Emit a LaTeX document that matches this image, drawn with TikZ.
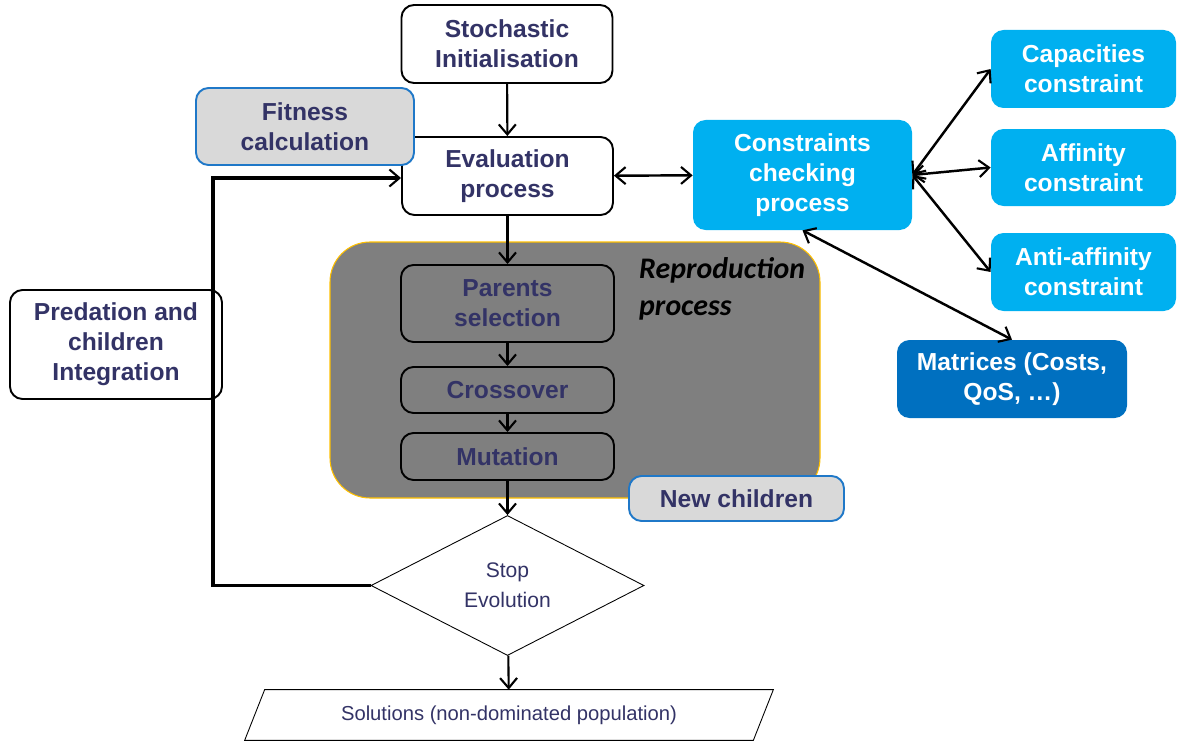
\documentclass[tikz,border=0pt]{standalone}
\usepackage{xcolor}
\usepackage{fontspec}
\setmainfont{Liberation Sans}
\newfontfamily\calib{Carlito}
\usetikzlibrary{shapes,arrows,positioning,calc,shapes.geometric,arrows.meta}

\definecolor{navytext}{HTML}{333366}
\definecolor{cyanbox}{HTML}{00B0F0}
\definecolor{bluebox}{HTML}{0070C0}
\definecolor{reprogray}{HTML}{7F7F7F}
\definecolor{reproedge}{HTML}{FFC000}
\definecolor{notegray}{HTML}{D9D9D9}
\definecolor{noteedge}{HTML}{1F78C8}

\begin{document}
\begin{tikzpicture}[
    >={Straight Barb[length=2mm, width=3.4mm, line width=1.2pt]},
    stepbox/.style={draw, line width=1.1pt, rounded corners=0.25cm, align=center, inner sep=0pt,
        text=navytext, font=\fontsize{14}{17}\selectfont\bfseries},
    notebox/.style={stepbox, fill=notegray, draw=noteedge},
    cbox/.style={rounded corners=0.25cm, align=center, inner sep=0pt, fill=cyanbox,
        text=white, font=\fontsize{14}{17}\selectfont\bfseries, minimum width=3.7cm},
    flow/.style={->, line width=1.2pt},
    both/.style={<->, line width=1.4pt}
]
    \useasboundingbox (0,0) rectangle (24.04,-14.84);

    % Reproduction background
    \draw[fill=reprogray, draw=reproedge, line width=0.6pt, rounded corners=0.8cm]
        (6.6,-4.84) rectangle (16.4,-9.96);
    \node[anchor=north west, align=left, font=\calib\fontsize{17}{21.5}\selectfont\bfseries\itshape]
        (reprolabel) at (12.66,-5.02) {Reproduction\\process};

    % Main flow
    \node[stepbox, fill=white, minimum width=4.22cm, minimum height=1.56cm] (init) at (10.14,-0.88) {Stochastic\\Initialisation};
    \node[stepbox, fill=white, minimum width=4.22cm, minimum height=1.56cm] (eval) at (10.15,-3.52) {Evaluation\\process};
    \node[notebox, minimum width=4.36cm, minimum height=1.54cm] (fitness) at (6.10,-2.53) {Fitness\\calculation};
    \node[stepbox, minimum width=4.26cm, minimum height=1.54cm] (parents) at (10.15,-6.07) {Parents\\selection};
    \node[stepbox, minimum width=4.26cm, minimum height=0.92cm] (cross) at (10.15,-7.8) {Crossover};
    \node[stepbox, minimum width=4.26cm, minimum height=0.94cm] (mut) at (10.15,-9.13) {Mutation};
    \node[notebox, minimum width=4.3cm, minimum height=0.9cm] (newchild) at (14.73,-9.97) {New children};
    \node[draw, diamond, line width=0.5pt, minimum width=5.46cm, minimum height=2.8cm, inner sep=0pt,
        align=center, text=navytext, font=\fontsize{12}{17}\selectfont] (stop) at (10.15,-11.71) {Stop\\Evolution};
    \node[minimum width=10.16cm, minimum height=1.0cm, inner sep=0pt, text=navytext,
        font=\fontsize{11.5}{14}\selectfont] (sol) at (10.18,-14.3) {Solutions (non-dominated population)};
    \draw[line width=0.5pt] ([xshift=-0.2cm]sol.south west) -- ([xshift=0.2cm]sol.north west)
        -- ([xshift=0.2cm]sol.north east) -- ([xshift=-0.2cm]sol.south east) -- cycle;
    \node[stepbox, fill=white, minimum width=4.24cm, minimum height=2.18cm] (pred) at (2.32,-6.89) {Predation and\\children\\Integration};

    % Constraints
    \node[cbox, minimum width=4.38cm, minimum height=2.2cm] (cons) at (16.05,-3.5) {Constraints\\checking\\process};
    \node[cbox, minimum height=1.56cm] (capa) at (21.67,-1.38) {Capacities\\constraint};
    \node[cbox, minimum height=1.54cm] (affin) at (21.67,-3.35) {Affinity\\constraint};
    \node[cbox, minimum height=1.56cm] (anti) at (21.67,-5.44) {Anti-affinity\\constraint};
    \node[cbox, fill=bluebox, minimum width=4.6cm, minimum height=1.56cm] (matr) at (20.24,-7.58) {Matrices (Costs,\\QoS, \dots)};

    % Arrows
    \draw[flow] (init) -- (eval);
    \draw[flow] (eval) -- (parents);
    \draw[flow] (parents) -- (cross);
    \draw[flow] (cross) -- (mut);
    \draw[flow] (mut) -- (stop);
    \draw[flow] (stop) -- (sol);
    \coordinate (loop) at (4.26,-11.71);
    \draw[->, line width=2pt] (stop.west) -- (loop) |- ($(eval.west)+(0,-0.04)$);
    \draw[both] (eval) -- (cons);
    \draw[both] (cons.east) -- (capa.west);
    \draw[both] (cons.east) -- (affin.west);
    \draw[both] (cons.east) -- (anti.west);
    \draw[both] (cons.south) -- (matr.north);
\end{tikzpicture}
\end{document}
